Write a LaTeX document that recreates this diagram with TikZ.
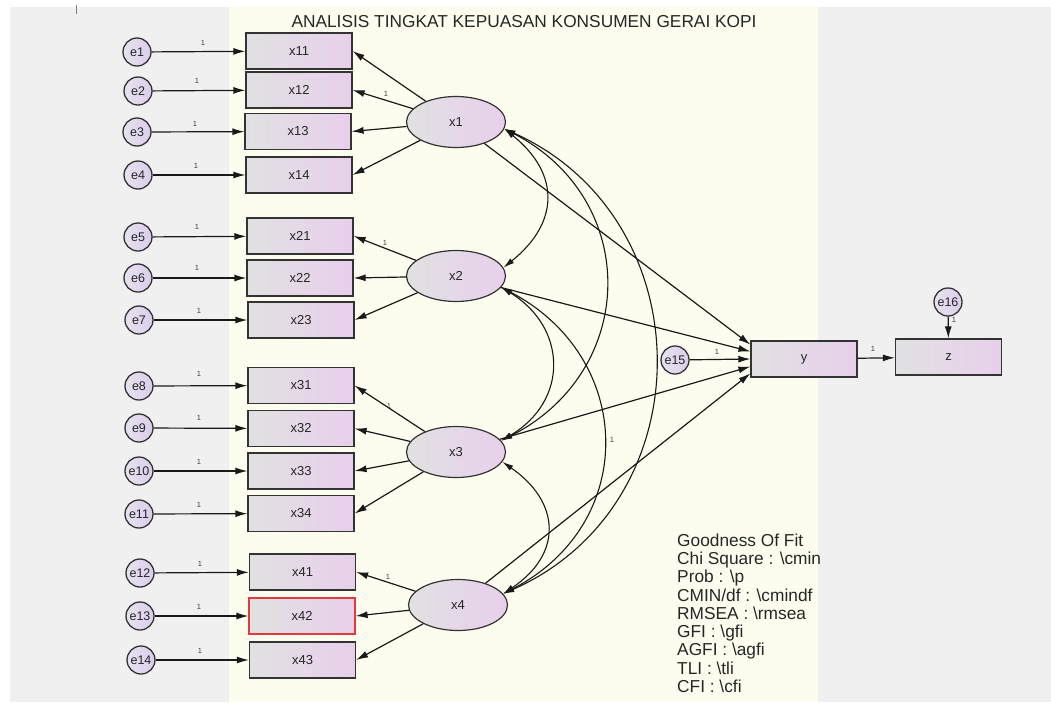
\documentclass[tikz,border=0pt]{standalone}
\usepackage{fontspec}
\setmainfont{Liberation Sans}
\usetikzlibrary{arrows.meta,shapes.geometric}
\definecolor{cream}{HTML}{FDFDEF}
\definecolor{panel}{HTML}{F0F0F0}
\definecolor{boxL}{HTML}{E1E1E1}
\definecolor{boxR}{HTML}{E8CFEC}
\definecolor{circL}{HTML}{E6E2EF}
\definecolor{circR}{HTML}{DCCDEB}
\definecolor{edgec}{HTML}{333333}
\definecolor{redb}{HTML}{E03A3A}
\begin{document}
\begin{tikzpicture}[x=1pt,y=-1pt,
  obs/.style={draw=edgec, line width=1.2pt, minimum width=106pt, minimum height=36pt, inner sep=0pt,
    left color=boxL, right color=boxR, font=\fontsize{13}{15}\selectfont, text=black!85},
  lat/.style={ellipse, draw=edgec, line width=1.2pt, minimum width=99pt, minimum height=51pt, inner sep=0pt,
    left color=boxL, right color=boxR, font=\fontsize{13}{15}\selectfont, text=black!85},
  err/.style={circle, draw=edgec, line width=1.3pt, minimum size=28pt, inner sep=0pt,
    left color=circL, right color=circR, font=\fontsize{12.5}{14}\selectfont, text=black!85},
  arr/.style={line width=1.2pt, draw=black!90, -{Latex[length=12pt,width=7pt]}},
  cov/.style={line width=1.1pt, draw=black!90, {Latex[length=11pt,width=6pt]}-{Latex[length=11pt,width=6pt]}},
  one/.style={font=\fontsize{7.5}{8}\selectfont, inner sep=0pt, text=black!75},
  gof/.style={anchor=base west, inner sep=0pt, font=\fontsize{17.3}{18}\selectfont, text=black!85}
]
% background
\fill[white] (0,0) rectangle (1051,702);
\fill[panel] (10,7) rectangle (1051,702);
\fill[cream] (229,7) rectangle (818,702);
\useasboundingbox (0,0) rectangle (1051,702);
\draw[black!50, line width=1pt] (76,5) -- (76,14);

% title
\node[anchor=base, inner sep=0pt, font=\fontsize{17.3}{19}\selectfont, text=black!85] (title) at (524,27)
  {ANALISIS TINGKAT KEPUASAN KONSUMEN GERAI KOPI};

% observed variables
\node[obs] (x11) at (299,51) {x11};
\node[obs] (x12) at (299,90) {x12};
\node[obs] (x13) at (298,131.5) {x13};
\node[obs] (x14) at (299,175) {x14};
\node[obs] (x21) at (300,236) {x21};
\node[obs] (x22) at (300,278) {x22};
\node[obs] (x23) at (301,320) {x23};
\node[obs] (x31) at (301,385.5) {x31};
\node[obs] (x32) at (301,428.5) {x32};
\node[obs] (x33) at (301,471) {x33};
\node[obs] (x34) at (301,513.5) {x34};
\node[obs] (x41) at (302.5,572) {x41};
\node[obs, draw=redb] (x42) at (302,616) {x42};
\node[obs] (x43) at (302.5,660) {x43};
\node[obs] (y) at (804,359) {y};
\node[obs] (z) at (948.5,357) {z};

% error terms
\node[err] (e1) at (137,52) {e1};
\node[err] (e2) at (138,91) {e2};
\node[err] (e3) at (137,132) {e3};
\node[err] (e4) at (138,175) {e4};
\node[err] (e5) at (138,237) {e5};
\node[err] (e6) at (138,278) {e6};
\node[err] (e7) at (139,320) {e7};
\node[err] (e8) at (139,386) {e8};
\node[err] (e9) at (139,428) {e9};
\node[err] (e10) at (139,471) {e10};
\node[err] (e11) at (139,514) {e11};
\node[err] (e12) at (140,573) {e12};
\node[err] (e13) at (140,616) {e13};
\node[err] (e14) at (141,660) {e14};
\node[err] (e15) at (675,360) {e15};
\node[err] (e16) at (948,302) {e16};

% latent variables
\node[lat] (x1) at (456,122) {x1};
\node[lat] (x2) at (456,276) {x2};
\node[lat] (x3) at (456,452) {x3};
\node[lat] (x4) at (458,605) {x4};

% error arrows
\foreach \e/\x in {e1/x11,e2/x12,e3/x13,e4/x14,e5/x21,e6/x22,e7/x23,e8/x31,e9/x32,e10/x33,e11/x34,e12/x41,e13/x42,e14/x43}
  \draw[arr] (\e) -- (\x);
\draw[arr] (e15) -- (y.180);
\draw[arr] (e16) -- (z);

% loadings
\foreach \l/\x in {x1/x11,x1/x12,x1/x13,x1/x14,x2/x21,x2/x22,x2/x23,x3/x31,x3/x32,x3/x33,x3/x34,x4/x41,x4/x42,x4/x43}
  \draw[arr] (\l) -- (\x.east);

% structural paths
\draw[arr] (x1) -- (y.165);
\draw[arr] (x2) -- (y.172);
\draw[arr] (x3) -- (y.188);
\draw[arr] (x4) -- (y.195);
\draw[arr] (y) -- (z);

% covariances
\draw[cov] (x1.-8) .. controls +(56,45) and +(56,-45) .. (x2.10);
\draw[cov] (x1.-8) .. controls +(136,70) and +(138,-70) .. (x3.14);
\draw[cov] (x1.-8) .. controls +(200,90) and +(203,-90) .. (x4.14);
\draw[cov] (x2.-14) .. controls +(66,40) and +(68,-40) .. (x3.14);
\draw[cov] (x2.-14) .. controls +(134,70) and +(136,-70) .. (x4.14);
\draw[cov] (x3.-12) .. controls +(58,40) and +(60,-40) .. (x4.14);

% "1" labels
\node[one] (l1) at (203,43) {1};
\node[one] (l2) at (197,81) {1};
\node[one] (l3) at (195,124) {1};
\node[one] (l4) at (196,166) {1};
\node[one] (l5) at (197,227) {1};
\node[one] (l6) at (197,268) {1};
\node[one] (l7) at (199,311) {1};
\node[one] (l8) at (199,374) {1};
\node[one] (l9) at (199,418) {1};
\node[one] (l10) at (199,462) {1};
\node[one] (l11) at (199,505) {1};
\node[one] (l12) at (200,564) {1};
\node[one] (l13) at (199,607) {1};
\node[one] (l14) at (200,651) {1};
\node[one] (lx1) at (386,94) {1};
\node[one] (lx2) at (385,243) {1};
\node[one] (lx3) at (389,406) {1};
\node[one] (lx4) at (388,577) {1};
\node[one] (l15) at (717,352) {1};
\node[one] (lyz) at (873,349) {1};
\node[one] (l16) at (954,320) {1};
\node[one] (lc) at (612,440) {1};

% goodness of fit
\node[gof] (g1) at (677,546) {Goodness Of Fit};
\node[gof] (g2) at (677,564.5) {Chi Square : \textbackslash cmin};
\node[gof] (g3) at (677,582.5) {Prob : \textbackslash p};
\node[gof] (g4) at (677,601) {CMIN/df : \textbackslash cmindf};
\node[gof] (g5) at (677,619) {RMSEA : \textbackslash rmsea};
\node[gof] (g6) at (677,637.5) {GFI : \textbackslash gfi};
\node[gof] (g7) at (677,655.5) {AGFI : \textbackslash agfi};
\node[gof] (g8) at (677,674) {TLI : \textbackslash tli};
\node[gof] (g9) at (677,692) {CFI : \textbackslash cfi};
\end{tikzpicture}
\end{document}
